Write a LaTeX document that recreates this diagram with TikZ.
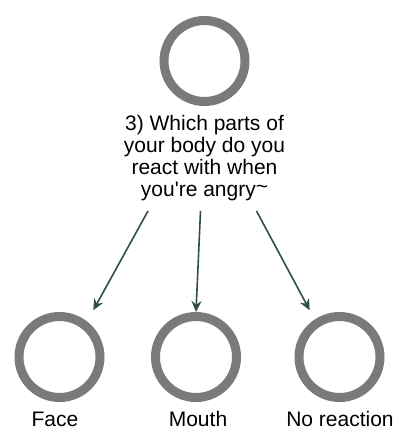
\documentclass[tikz,border=0pt]{standalone}
\usepackage{fontspec}
\setmainfont{Liberation Sans}
\usetikzlibrary{arrows.meta}
\definecolor{ringgray}{HTML}{7A7A7A}
\definecolor{slatelink}{HTML}{2F4F48}

\begin{document}
\begin{tikzpicture}[x=1pt, y=-1pt,
    ring/.style={circle, draw=ringgray, line width=9pt, minimum size=81pt, inner sep=0pt},
    txt/.style={font=\fontsize{21}{22}\selectfont, inner sep=0pt},
    link/.style={draw=slatelink, line width=1.6pt, -{Stealth[length=11pt, width=10pt]}}]
  \useasboundingbox (0,0) rectangle (398,430);

  \node[ring] (top) at (204.5, 61) {};
  \node[txt, align=center, anchor=north] (q) at (204.5, 115)
    {3) Which parts of\\your body do you\\react with when\\you\textquotesingle re angry\raisebox{2.5pt}{\textasciitilde}};

  \node[ring] (face)  at ( 59.5, 357) {};
  \node[ring] (mouth) at (196.0, 357) {};
  \node[ring] (none)  at (339.5, 357) {};

  \node[txt, anchor=base] (lface)  at ( 55, 426) {Face};
  \node[txt, anchor=base] (lmouth) at (198, 426) {Mouth};
  \node[txt, anchor=base] (lnone)  at (340, 426) {No reaction};

  \draw[link] ([xshift=-56.5pt, yshift=-10pt]q.south) -- ([xshift=2pt, yshift=15pt]face.north east);
  \draw[link] ([xshift=-4pt, yshift=-10pt]q.south) -- (mouth.north);
  \draw[link] ([xshift=52pt, yshift=-10pt]q.south) -- ([xshift=2pt, yshift=15pt]none.north west);
\end{tikzpicture}
\end{document}
